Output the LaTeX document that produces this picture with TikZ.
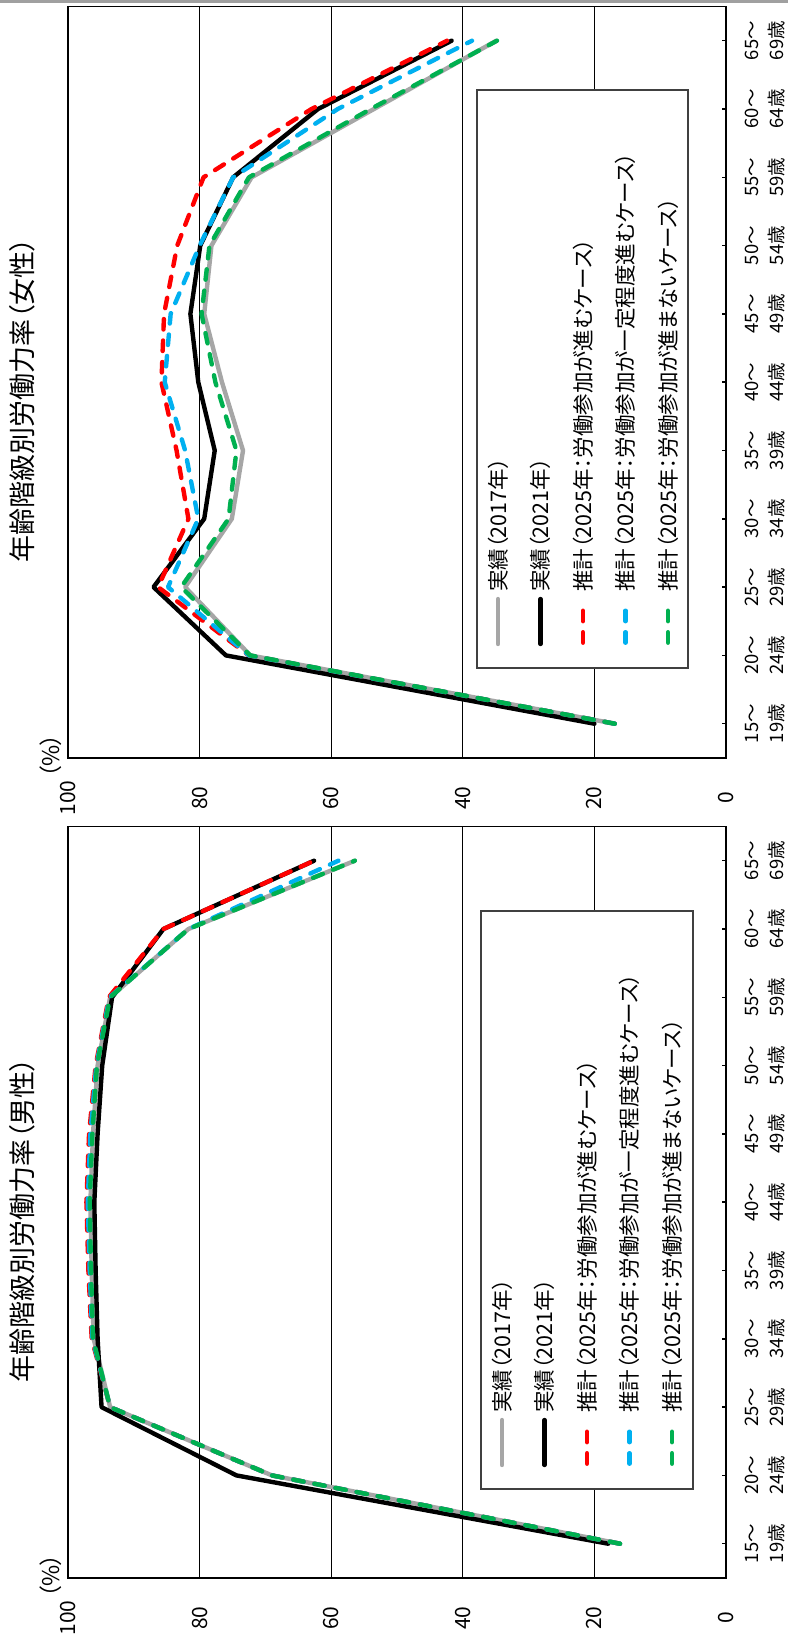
\documentclass[tikz,border=0pt]{standalone}
\usepackage{fontspec}
\setmainfont{Noto Sans CJK JP}[RawFeature={+palt}]
\definecolor{c17}{HTML}{A6A6A6}
\definecolor{cred}{HTML}{FF0000}
\definecolor{cblue}{HTML}{00B0F0}
\definecolor{cgreen}{HTML}{00B050}
\definecolor{cbox}{HTML}{404040}
\definecolor{ctop}{HTML}{A0A0A0}
\tikzset{
  ser/.style={line width=4.4pt, line join=round, line cap=round},
  s17/.style={ser, draw=c17},
  s21/.style={ser, draw=black},
  sred/.style={ser, draw=cred, dash pattern=on 10.5pt off 11pt},
  sblue/.style={ser, draw=cblue, dash pattern=on 10.5pt off 11pt},
  sgreen/.style={ser, draw=cgreen, dash pattern=on 10.5pt off 11pt},
  gridln/.style={draw=black, line width=1pt},
  frameln/.style={draw=black, line width=1.5pt},
  legbox/.style={draw=cbox, line width=1.3pt},
  ttl/.style={rotate=90, inner sep=0pt, font=\fontsize{27}{32}\selectfont},
  valtxt/.style={rotate=90, inner sep=0pt, font=\fontsize{21}{24}\selectfont},
  pcttxt/.style={rotate=90, inner sep=0pt, font=\fontsize{23}{26}\selectfont},
  cattxt/.style={rotate=90, inner sep=0pt, align=center, font=\fontsize{18.5}{25}\selectfont},
  legtxt/.style={rotate=90, anchor=west, inner sep=0pt, font=\fontsize{21.5}{25}\selectfont},
  datafr/.style={shift={(726,723.7)}, x={(-6.58pt,0pt)}, y={(0pt,68.3pt)}}
}
\newcommand{\panelframe}{%
  \foreach \xx in {199.6,331.2,462.8,594.4} \draw[gridln] (\xx,6.5) -- (\xx,757.9);
  \draw[frameln] (68,6.5) rectangle (726,757.9);
  \foreach \i in {0,...,10} \draw[frameln] (726,{723.7-68.3*\i}) -- ++(-4.5,0);
  \foreach \ca/\cb [count=\i from 0] in {15/19,20/24,25/29,30/34,35/39,40/44,45/49,50/54,55/59,60/64,65/69}
    \node[cattxt] at (765,{723.7-68.3*\i}) {{\ca}～\\{\cb}歳};
  \foreach \v in {0,20,40,60,80,100} \node[valtxt] at ({726-6.58*\v},798) {\v};
  \node[pcttxt] (pct) at (51,756) {（\%）};
}
\begin{document}
\begin{tikzpicture}[x=1pt,y=-1pt]
\useasboundingbox[fill=white] (0,0) rectangle (788,1639);
\fill[ctop] (0,0) rectangle (788,3);

% ===== Female panel =====
\begin{scope}
  \panelframe
  \node[ttl] (t1) at (22,400) {年齢階級別労働力率（女性）};
  \begin{scope}[datafr]
    \draw[s17] plot coordinates {(16.9,0) (72.3,1) (82.2,2) (75.1,3) (73.4,4) (76.6,5) (79.3,6) (78.2,7) (72.1,8) (53.5,9) (34.9,10)};
    \draw[s21] plot coordinates {(20.0,0) (76.0,1) (87.0,2) (79.3,3) (77.7,4) (80.2,5) (81.4,6) (79.9,7) (74.9,8) (62.0,9) (41.7,10)};
    \draw[sred] plot coordinates {(16.9,0) (72.5,1) (86.3,2) (81.7,3) (83.5,4) (85.8,5) (85.4,6) (83.4,7) (79.4,8) (63.0,9) (42.4,10)};
    \draw[sblue] plot coordinates {(16.9,0) (72.5,1) (84.8,2) (80.2,3) (82.2,4) (85.3,5) (84.4,6) (80.0,7) (74.9,8) (59.0,9) (38.6,10)};
    \draw[sgreen] plot coordinates {(16.9,0) (72.3,1) (82.8,2) (75.6,3) (74.4,4) (77.6,5) (79.7,6) (78.5,7) (72.5,8) (54.0,9) (34.8,10)};
  \end{scope}
  % legend
  \draw[legbox, fill=white] (477,90) rectangle (688,668);
  \draw[s17] (498,644) -- (498,599);
  \node[legtxt] (l1) at (498,592) {実績（2017年）};
  \draw[s21] (540.5,644) -- (540.5,599);
  \node[legtxt] (l2) at (540.5,592) {実績（2021年）};
  \draw[sred] (583,642.7) -- (583,605);
  \node[legtxt] (l3) at (583,592) {推計（2025年：労働参加が進むケース）};
  \draw[sblue] (625.5,642.7) -- (625.5,605);
  \node[legtxt] (l4) at (625.5,592) {推計（2025年：労働参加が一定程度進むケース）};
  \draw[sgreen] (668,642.7) -- (668,605);
  \node[legtxt] (l5) at (668,592) {推計（2025年：労働参加が進まないケース）};
\end{scope}

% ===== Male panel =====
\begin{scope}[shift={(0,820)}]
  \panelframe
  \node[ttl] (t2) at (22,400) {年齢階級別労働力率（男性）};
  \begin{scope}[datafr]
    \draw[s17] plot coordinates {(16.1,0) (69.0,1) (93.6,2) (96.1,3) (96.4,4) (96.6,5) (96.2,6) (95.5,7) (93.6,8) (81.7,9) (56.4,10)};
    \draw[s21] plot coordinates {(17.9,0) (74.4,1) (94.9,2) (95.5,3) (95.8,4) (96.0,5) (95.5,6) (94.8,7) (93.3,8) (85.5,9) (62.6,10)};
    \draw[sred] plot coordinates {(16.1,0) (69.0,1) (93.6,2) (96.4,3) (96.9,4) (97.2,5) (96.8,6) (95.8,7) (93.8,8) (85.5,9) (62.6,10)};
    \draw[sblue] plot coordinates {(16.1,0) (69.0,1) (93.6,2) (96.3,3) (96.7,4) (97.0,5) (96.6,6) (95.7,7) (93.7,8) (81.7,9) (58.9,10)};
    \draw[sgreen] plot coordinates {(16.1,0) (69.0,1) (93.6,2) (96.2,3) (96.5,4) (96.7,5) (96.3,6) (95.6,7) (93.6,8) (81.7,9) (56.4,10)};
  \end{scope}
  % legend
  \draw[legbox, fill=white] (481,91) rectangle (693,669);
  \draw[s17] (502,645) -- (502,600);
  \node[legtxt] (m1) at (502,593) {実績（2017年）};
  \draw[s21] (544.5,645) -- (544.5,600);
  \node[legtxt] (m2) at (544.5,593) {実績（2021年）};
  \draw[sred] (587,643.7) -- (587,606);
  \node[legtxt] (m3) at (587,593) {推計（2025年：労働参加が進むケース）};
  \draw[sblue] (629.5,643.7) -- (629.5,606);
  \node[legtxt] (m4) at (629.5,593) {推計（2025年：労働参加が一定程度進むケース）};
  \draw[sgreen] (672,643.7) -- (672,606);
  \node[legtxt] (m5) at (672,593) {推計（2025年：労働参加が進まないケース）};
\end{scope}
\end{tikzpicture}
\end{document}
